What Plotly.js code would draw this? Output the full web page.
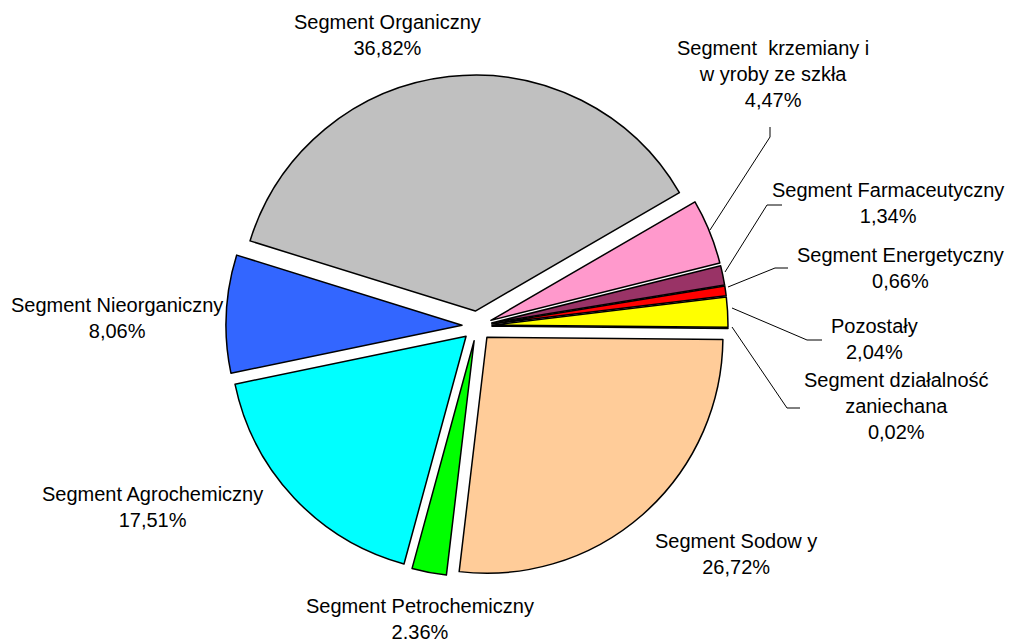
<!DOCTYPE html>
<html>
<head>
<meta charset="utf-8">
<script src="https://cdn.plot.ly/plotly-3.0.1.min.js"></script>
<style>html,body{margin:0;padding:0;background:#fff}#chart{width:1030px;height:642px}</style>
</head>
<body>
<div id="chart"></div>
<script>
// ---- data ----
var segments = [
  'Segment Organiczny',
  'Segment  krzemiany i<br>w yroby ze szkła',
  'Segment Farmaceutyczny',
  'Segment Energetyczny',
  'Pozostały',
  'Segment działalność<br>zaniechana',
  'Segment Sodow y',
  'Segment Petrochemiczny',
  'Segment Agrochemiczny',
  'Segment Nieorganiczny'
];
var shares = [36.82, 4.47, 1.34, 0.66, 2.04, 0.02, 26.72, 2.36, 17.51, 8.06];
var shareLabels = ['36,82%', '4,47%', '1,34%', '0,66%', '2,04%', '0,02%', '26,72%', '2.36%', '17,51%', '8,06%'];

// ---- styles / positions ----
var sliceColors = ['#C0C0C0', '#FF99CC', '#993366', '#FF0000', '#FFFF00', '#003366',
                   '#FFCC99', '#00FF00', '#00FFFF', '#3366FF'];
var W = 1030, H = 642;
// label centres in pixels
var labelPos = [
  [387, 35], [773, 74], [888, 203], [900, 268], [874, 339],
  [896, 406], [736, 554], [420, 619], [152, 507], [117, 318]
];
// leader lines (pixels), null = none
var leaders = [
  null,
  [[770, 127], [770, 137], [710, 230]],
  [[782, 205], [767, 205], [725, 272]],
  [[788, 268], [775, 268], [728, 287]],
  [[732, 308], [807, 340], [822, 340]],
  [[732, 327], [787, 408], [800, 408]],
  null, null, null, null
];

function px(x) { return x / W; }
function py(y) { return 1 - y / H; }

var annotations = segments.map(function (s, i) {
  return {
    text: s + '<br>' + shareLabels[i],
    x: px(labelPos[i][0]), y: py(labelPos[i][1]),
    xref: 'paper', yref: 'paper',
    xanchor: 'center', yanchor: 'middle',
    showarrow: false, align: 'center',
    font: {family: '"Liberation Sans", Arial, sans-serif', size: 20, color: '#000'}
  };
});

var shapes = [];
leaders.forEach(function (pts) {
  if (!pts) return;
  var d = pts.map(function (p, k) {
    return (k === 0 ? 'M' : 'L') + px(p[0]) + ',' + py(p[1]);
  }).join(' ');
  shapes.push({type: 'path', xref: 'paper', yref: 'paper', path: d,
               line: {color: '#000', width: 1}});
});

var pullFrac = 0.0636;
var trace = {
  type: 'pie',
  labels: segments,
  values: shares,
  sort: false,
  direction: 'clockwise',
  rotation: -72.7,
  pull: shares.map(function () { return pullFrac; }),
  marker: {colors: sliceColors, line: {color: '#000', width: 1.5}},
  textinfo: 'none',
  hoverinfo: 'label+percent',
  domain: {x: [226 / W, 728 / W], y: [65 / H, 567 / H]}
};

var layout = {
  width: W, height: H,
  margin: {l: 0, r: 0, t: 0, b: 0},
  paper_bgcolor: '#fff',
  showlegend: false,
  annotations: annotations,
  shapes: shapes
};

Plotly.newPlot('chart', [trace], layout, {displayModeBar: false, staticPlot: true});
</script>
</body>
</html>
